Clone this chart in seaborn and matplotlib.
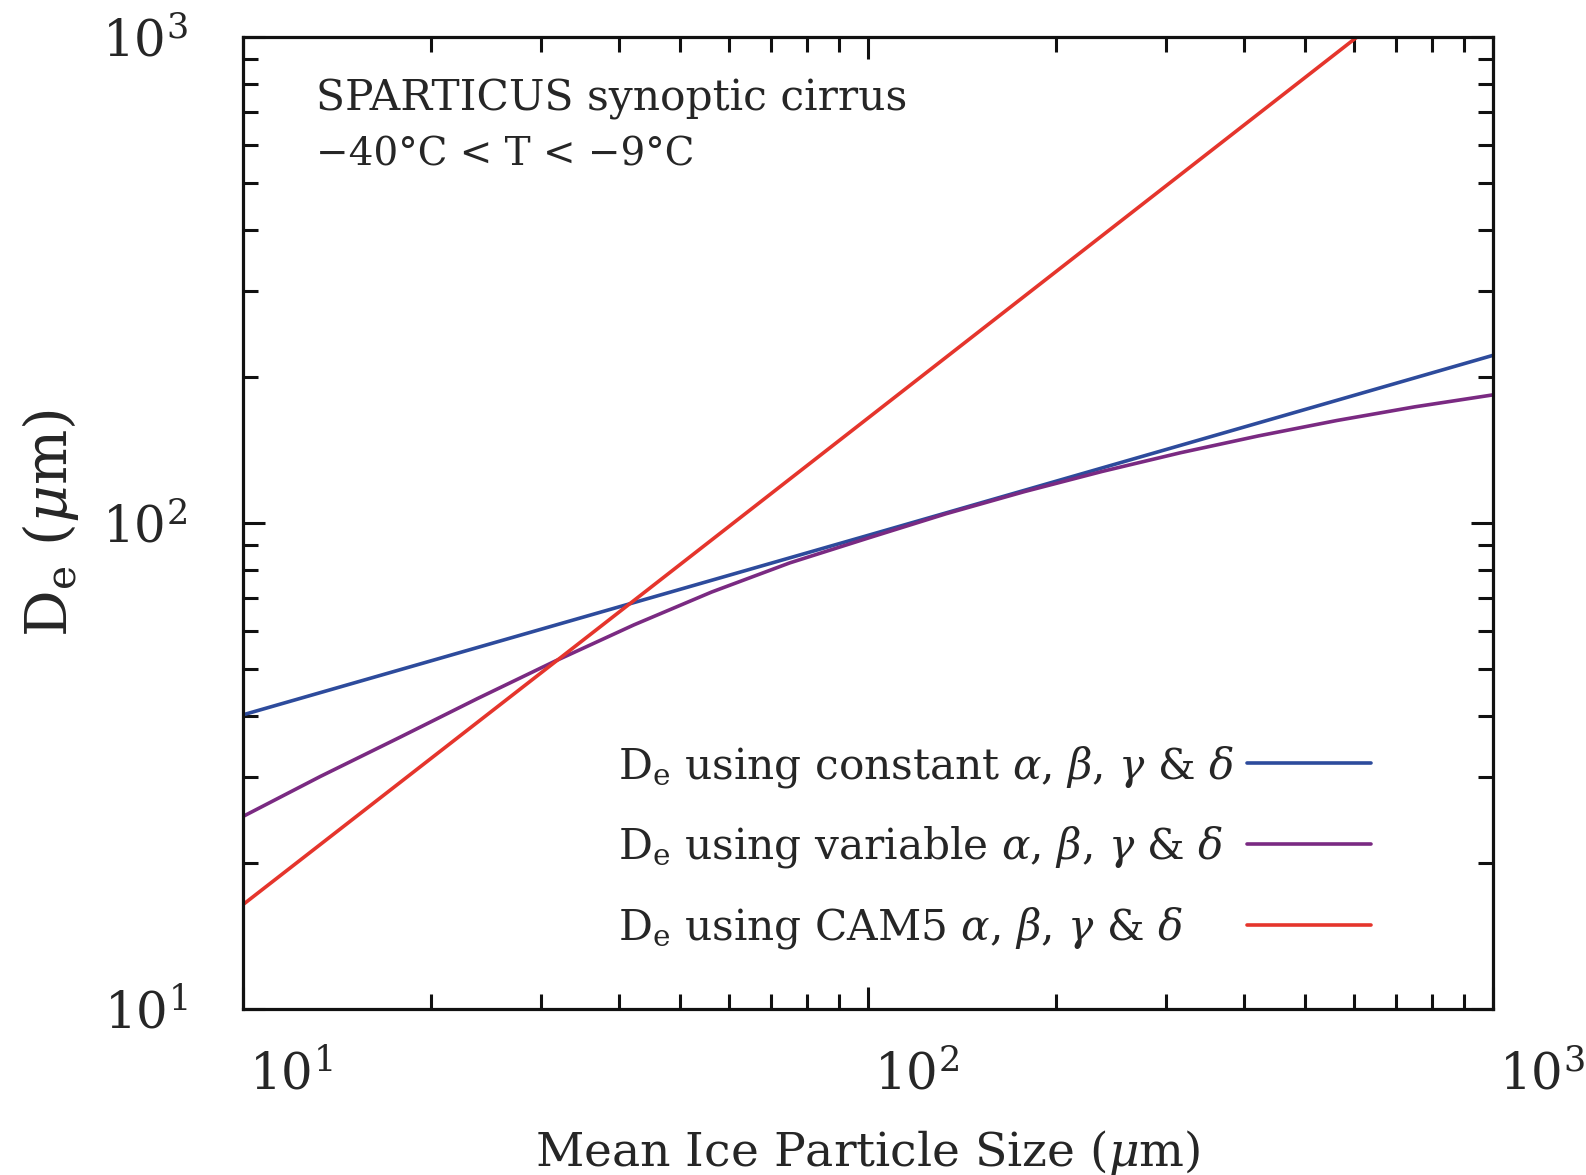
import numpy as np
import pandas as pd
import matplotlib
matplotlib.use("Agg")
import matplotlib.pyplot as plt
import matplotlib.transforms as mtransforms
from matplotlib.ticker import FixedLocator, NullFormatter
import seaborn as sns

# Mean ice particle size (um) and effective diameter De (um) for each scheme
size_constant = [10.0, 100.0, 1000.0]
de_constant = [40.3, 94.3, 221.3]

size_variable = [10.0, 13.3, 17.8, 23.7, 31.6, 42.2, 56.2, 75.0, 100.0,
                 133.4, 177.8, 237.1, 316.2, 421.7, 562.3, 749.9, 1000.0]
de_variable = [24.9, 30.1, 36.2, 43.5, 52.0, 61.7, 72.1, 82.8, 93.1,
               104.5, 116.0, 127.7, 139.5, 151.1, 162.5, 173.4, 183.5]

size_cam5 = [10.0, 32.2, 606.0]
de_cam5 = [16.4, 52.8, 1000.0]

series_labels = [
    r"D$_{\rm e}$ using constant $\alpha$, $\beta$, $\gamma$ & $\delta$",
    r"D$_{\rm e}$ using variable $\alpha$, $\beta$, $\gamma$ & $\delta$",
    r"D$_{\rm e}$ using CAM5 $\alpha$, $\beta$, $\gamma$ & $\delta$",
]
series_colors = ["#2d4b9c", "#7a2a82", "#e5352c"]

major_ticks = [10, 100, 1000]
major_labels = [r"$10^{1}$", r"$10^{2}$", r"$10^{3}$"]

sns.set_style("ticks")
plt.rcParams["font.family"] = ["DejaVu Serif"]
plt.rcParams["mathtext.fontset"] = "dejavuserif"

fig = plt.figure(figsize=(15.86, 11.75), dpi=100)
ax = fig.add_axes([243 / 1586, 1 - 1009 / 1175, 1250 / 1586, 972 / 1175])

frames = [
    (size_constant, de_constant),
    (size_variable, de_variable),
    (size_cam5, de_cam5),
]
for (sx, sy), lab, col in zip(frames, series_labels, series_colors):
    df = pd.DataFrame({"size": sx, "De": sy})
    sns.lineplot(data=df, x="size", y="De", ax=ax, color=col, lw=2.6,
                 label=lab, sort=False, estimator=None)

ax.set_xscale("log")
ax.set_yscale("log")
ax.set_xlim(10, 1000)
ax.set_ylim(10, 1000)

minor = [m * 10 ** e for e in (1, 2) for m in range(2, 10)]
for axis in (ax.xaxis, ax.yaxis):
    axis.set_major_locator(FixedLocator(major_ticks))
    axis.set_minor_locator(FixedLocator(minor))
    axis.set_minor_formatter(NullFormatter())
ax.set_xticklabels(major_labels)
ax.set_yticklabels(major_labels)

ax.tick_params(which="both", direction="in", top=True, right=True,
               width=2.2, color="#111111")
ax.tick_params(which="major", length=16, labelsize=36)
ax.tick_params(which="minor", length=11)
ax.tick_params(axis="x", which="major", pad=30)
ax.tick_params(axis="y", which="major", pad=40)
for sp in ax.spines.values():
    sp.set_linewidth(2.3)
    sp.set_color("#111111")

shift = mtransforms.ScaledTranslation(6 / 100, 0, fig.dpi_scale_trans)
for lbl in ax.get_xticklabels():
    lbl.set_horizontalalignment("left")
    lbl.set_transform(lbl.get_transform() + shift)

ax.set_xlabel(r"Mean Ice Particle Size ($\mu$m)", fontsize=34, labelpad=20)
ax.set_ylabel(r"D$_{\rm e}$ ($\mu$m)", fontsize=42, labelpad=15)

ax.text(0.058, 0.958, "SPARTICUS synoptic cirrus", transform=ax.transAxes,
        fontsize=30.5, va="top", ha="left")
ax.text(0.058, 0.898, "\u221240\u00b0C < T < \u22129\u00b0C", transform=ax.transAxes,
        fontsize=28, va="top", ha="left")

leg = ax.legend(loc="upper left", bbox_to_anchor=(0.300, 0.273), frameon=False,
                markerfirst=False, fontsize=30.4, handlelength=2.95,
                handletextpad=0.3, labelspacing=0.82, borderpad=0,
                borderaxespad=0)

# Left-align the label texts while keeping the line samples in one column
fig.canvas.draw()
renderer = fig.canvas.get_renderer()
widths = [t.get_window_extent(renderer).width for t in leg.get_texts()]
wmax = max(widths)
column = leg._legend_handle_box.get_children()[0]
column.align = "left"
for row, w in zip(column.get_children(), widths):
    row.sep = row.sep + (wmax - w) * 72 / fig.dpi

fig.savefig("out.png", dpi=100)
